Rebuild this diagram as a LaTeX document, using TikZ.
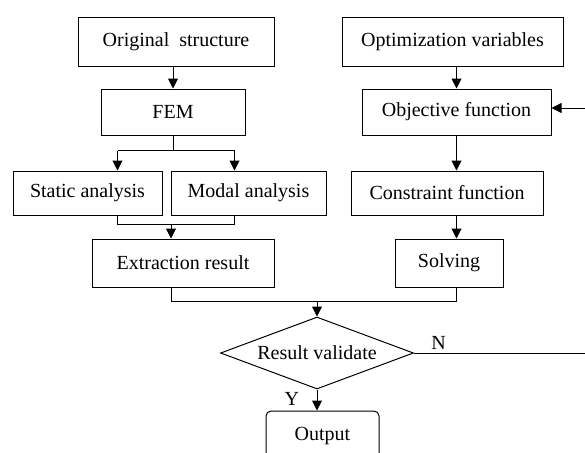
\documentclass[tikz,border=0pt]{standalone}
\usepackage{fontspec}
\setmainfont{Liberation Serif}
\usepackage{tikz}
\usetikzlibrary{shapes.geometric,arrows.meta,positioning}

\tikzset{block/.style={draw, rectangle, line width=1pt, font=\fontsize{20}{23}\selectfont}}

\begin{document}
\begin{tikzpicture}[x=1pt, y=-1pt, line width=1pt, >={Triangle[length=10pt,width=10pt]}]
		\clip (0,0) rectangle (585,452);
		
		% Left column: structure side
		\node (orig) [block, minimum width=196pt, minimum height=48pt] at (176,42) {Original~~structure};
		\node (fem) [block, minimum width=144pt, minimum height=46pt] at (173,112) {FEM};
		\node (static) [block, minimum width=149pt, minimum height=44pt] at (87.5,193) {Static analysis};
		\node (modal) [block, minimum width=155pt, minimum height=44pt, right of=static, node distance=161pt] {Modal analysis};
		\node (extract) [block, minimum width=182pt, minimum height=48pt] at (183,263) {Extraction result};
		
		% Right column: optimization side
		\node (optvar) [block, minimum width=221pt, minimum height=48pt, right of=orig, node distance=276.5pt] {Optimization variables};
		\node (objf) [block, minimum width=189pt, minimum height=46pt] at (456.5,112) {Objective function};
		\node (constr) [block, minimum width=192pt, minimum height=44pt] at (447,193) {Constraint function};
		\node (solving) [block, minimum width=108pt, minimum height=48pt] at (449,263) {Solving};
		
		% Check and output
		\node (check) [block, diamond, aspect=2.68, inner sep=0pt, minimum width=193pt, minimum height=72pt] at (317,353) {Result validate};
		\node (output) [block, rounded corners=5pt, minimum width=113pt, minimum height=50pt] at (322.5,436) {Output};
		
		% join points and free ends at the right border
		\coordinate (sa) at ([xshift=30pt]static.north);
		\coordinate (sb) at ([xshift=30pt]static.south);
		\coordinate (ma) at ([xshift=-14pt]modal.north);
		\coordinate (mb) at ([xshift=-14pt]modal.south);
		\coordinate (ea) at ([xshift=-12pt]extract.north);
		\coordinate (eb) at ([xshift=-12pt]extract.south);
		\coordinate (fbin) at (590,108);
		\coordinate (nout) at (590,353);
		
		% Connect the blocks with arrows
		\draw[->] (orig.south -| fem.north) -- (fem.north);
		\draw (fem.south) -- ++(0,15) coordinate (split);
		\draw (split -| sa) -- (split -| ma);
		\draw[->] (split -| sa) -- (sa);
		\draw[->] (split -| ma) -- (ma);
		\draw (sb) -- ++(0,9) coordinate (join) -| (mb);
		\draw[->] (join -| ea) -- (ea);
		
		\draw[->] (optvar.south -| objf.north) -- (objf.north);
		\draw[->] (objf.south) -- (objf.south |- constr.north);
		\draw[->] (constr.south -| objf.south) -- (objf.south |- solving.north);
		\draw[->] (fbin) -- (fbin -| objf.east);
		
		\draw (eb) -- ++(0,14) coordinate (merge) -| (objf.south |- solving.south);
		\draw[->] (merge -| check.north) -- (check.north);
		\draw (check.east) -- (check.east -| nout) node [pos=0.14, above, font=\fontsize{20}{23}\selectfont] {N};
		\draw[->] (check.south) -- (check.south |- output.north) node [pos=0.45, left, xshift=-14pt, font=\fontsize{20}{23}\selectfont] {Y};
	\end{tikzpicture}
\end{document}
